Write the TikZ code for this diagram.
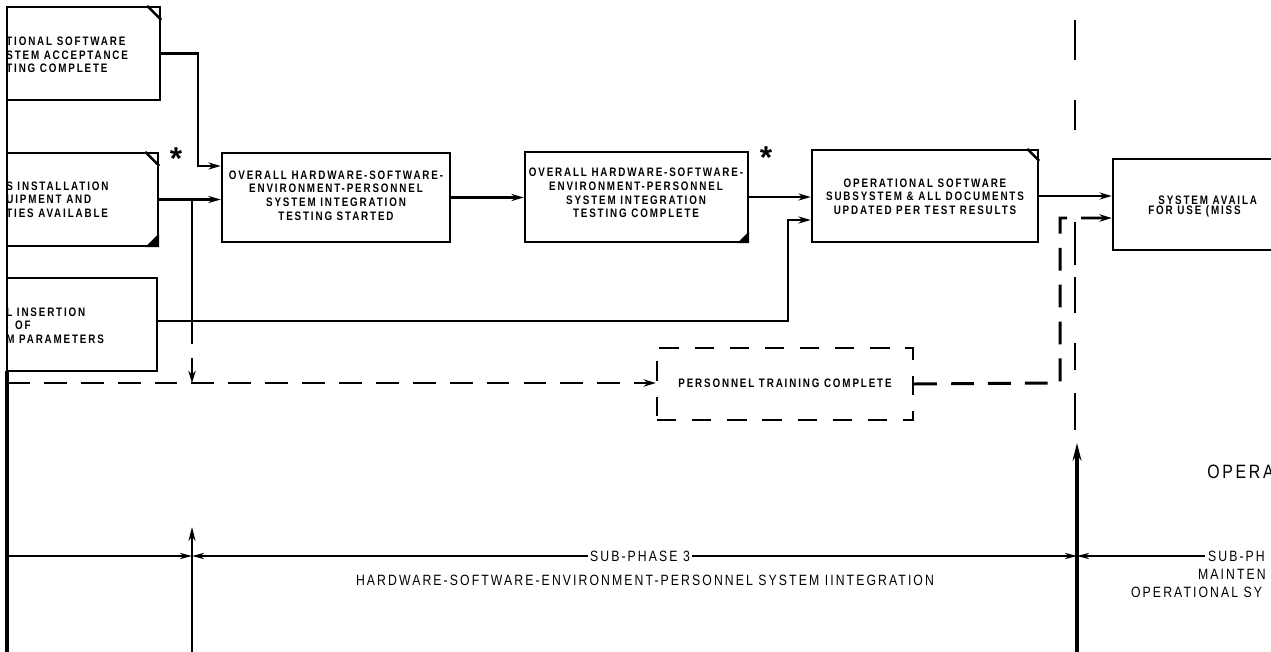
\documentclass[tikz,border=0pt]{standalone}
\usepackage{fontspec}
\setmainfont{Liberation Sans}
\newfontfamily\lerb[FakeStretch=0.8,LetterSpace=15]{Liberation Sans}
\newfontfamily\lerr[FakeStretch=0.82,LetterSpace=14]{Liberation Sans}
\usetikzlibrary{arrows.meta,calc,fit}
\tikzset{dimtip/.tip={Stealth[length=7pt,width=3.6pt]}}
\begin{document}
\begin{tikzpicture}[x=0.02cm,y=-0.02cm,
  box/.style={draw, line width=1.4pt, inner sep=0pt},
  dbox/.style={draw, line width=1.3pt, inner sep=0pt, dash pattern=on 11pt off 9pt},
  btxt/.style={font=\lerb\bfseries\fontsize{7}{7.8}\selectfont, inner sep=0pt},
  ctxt/.style={btxt, align=center},
  ltxt/.style={btxt, align=left, anchor=west},
  conn/.style={line width=1.4pt},
  arr/.style={conn, -{Stealth[length=7pt,width=4pt]}},
  dsh/.style={line width=1.7pt, dash pattern=on 13pt off 8pt},
  darr/.style={dsh, -{Stealth[length=7pt,width=4.2pt]}},
  dim/.style={line width=0.9pt},
  ast/.style={font=\bfseries\fontsize{18}{18}\selectfont, inner sep=0pt, anchor=north},
  phase/.style={font=\lerr\fontsize{8.5}{9.5}\selectfont, inner sep=1pt},
]
\useasboundingbox (0,0) rectangle (1271,652);
\clip (0,0) rectangle (1271,652);

% ---------- left boxes ----------
\node[box, fit={(7,7)(160,100)}] (b1) {};
\node[ltxt] (t1) at (6,55) {TIONAL SOFTWARE\\STEM ACCEPTANCE\\TING COMPLETE};
\draw[conn] ($(b1.north east)+(-14,0)$) -- ($(b1.north east)+(0,14)$);

\node[box, fit={(7,153)(158,246)}] (b2) {};
\node[ltxt] (t2) at (6,199.5) {S INSTALLATION\\UIPMENT AND\\TIES AVAILABLE};
\draw[conn] ($(b2.north east)+(-14,0)$) -- ($(b2.north east)+(0,14)$);
\fill ($(b2.south east)+(-14,0)$) -- (b2.south east) -- ($(b2.south east)+(0,-14)$) -- cycle;

\node[box, fit={(7,278)(157,371)}] (b7) {};
\node[ltxt] (t7) at (6,325.5) {L INSERTION\\\hspace*{5pt}OF\\M PARAMETERS};

% ---------- main row ----------
\node[box, fit={(222,153)(450,242)}] (b3) {};
\node[ctxt] (t3) at (336,195.5) {OVERALL HARDWARE-SOFTWARE-\\ENVIRONMENT-PERSONNEL\\SYSTEM INTEGRATION\\TESTING STARTED};

\node[box, fit={(525,152)(748,242)}] (b4) {};
\node[ctxt] (t4) at (636,193) {OVERALL HARDWARE-SOFTWARE-\\ENVIRONMENT-PERSONNEL\\SYSTEM INTEGRATION\\TESTING COMPLETE};
\fill ($(b4.south east)+(-12,0)$) -- (b4.south east) -- ($(b4.south east)+(0,-12)$) -- cycle;

\node[box, fit={(812,150)(1038,242)}] (b5) {};
\node[ctxt] (t5) at (925,196.5) {OPERATIONAL SOFTWARE\\SUBSYSTEM \& ALL DOCUMENTS\\UPDATED PER TEST RESULTS};
\draw[conn] ($(b5.north east)+(-12,0)$) -- ($(b5.north east)+(0,12)$);

\node[box, fit={(1113,159)(1300,250)}] (b6) {};
\node[btxt, anchor=west] (t6a) at (1158,200) {SYSTEM AVAILA};
\node[btxt, anchor=west] (t6b) at (1148,211) {FOR USE (MISS};

\node[dbox, fit={(657,348)(913,420)}] (p) {};
\node[btxt] (tp) at (785,383) {PERSONNEL TRAINING COMPLETE};

% asterisks
\node[ast] (s1) at (176,147) {*};
\node[ast] (s2) at (766,146) {*};

% ---------- connectors ----------
\coordinate (j1) at (198,166);
\draw[arr] (b1.east) -| (j1) -- (j1 -| b3.west);
\draw[arr] (b2.east) -- (b2.east -| b3.west);
\coordinate (j2) at (192,199.5);
\coordinate (j3) at (192,321);
\coordinate (j4) at (192,383);
\draw[conn] (j2) -- (j3);
\draw[darr] (j3) -- (j4);

\coordinate (k1) at (157,321);
\coordinate (k2) at (788,220);
\draw[arr] (k1) -| (k2) -- (k2 -| b5.west);

\draw[arr] (b3.east) -- (b3.east -| b4.west);
\draw[arr] (b4.east) -- (b4.east -| b5.west);
\draw[arr] (b5.east) -- (b5.east -| b6.west);

\coordinate (d0) at (7,383);
\draw[darr] (d0) -- (d0 -| p.west);
\coordinate (d1) at (1060,383);
\coordinate (d2) at (1060,218);
\draw[darr] (p.east) -- (d1) -- (d2) -- (d2 -| b6.west);

% left border lines
\coordinate (L0) at (7,7);
\coordinate (L1) at (7,371);
\coordinate (L2) at (7,652);
\draw[conn] (L0) -- (L1);
\draw[line width=2.4pt] (L1) -- (L2);

% vertical broken line at phase boundary
\foreach \a/\b in {20/60,100/130,222/265,277/313,343/370,393/430}
  \draw[line width=1.1pt] (1075,\a) -- (1075,\b);

% phase boundary arrows
\coordinate (v1b) at (1077,652);
\coordinate (v1t) at (1077,443);
\draw[line width=1.8pt, -{Stealth[length=10pt,width=5pt]}] (v1b) -- (v1t);
\coordinate (v2b) at (192,652);
\coordinate (v2t) at (192,527);
\draw[dim, -{Stealth[length=8pt,width=4pt]}] (v2b) -- (v2t);

% dimension line
\coordinate (h0) at (8,556);
\coordinate (h1) at (192,556);
\coordinate (h2) at (1077,556);
\coordinate (h3) at (1205,556);
\draw[dim, -{dimtip}] (h0) -- (h1);
\draw[dim, {dimtip}-{dimtip}] (h1) -- (h2);
\draw[dim, {dimtip}-] (h2) -- (h3);
\node[phase, fill=white] (sp3) at (640,556) {SUB-PHASE 3};
\node[phase] (hs) at (645,580) {HARDWARE-SOFTWARE-ENVIRONMENT-PERSONNEL SYSTEM IINTEGRATION};
\node[phase, anchor=west] (sp4) at (1206,556) {SUB-PH};
\node[phase, anchor=west] (mt) at (1196,574) {MAINTEN};
\node[phase, anchor=west] (os) at (1129,592) {OPERATIONAL SY};
\node[font=\lerr\fontsize{11}{12}\selectfont, inner sep=0pt, anchor=west] (op) at (1207,472) {OPERA};
\end{tikzpicture}
\end{document}
